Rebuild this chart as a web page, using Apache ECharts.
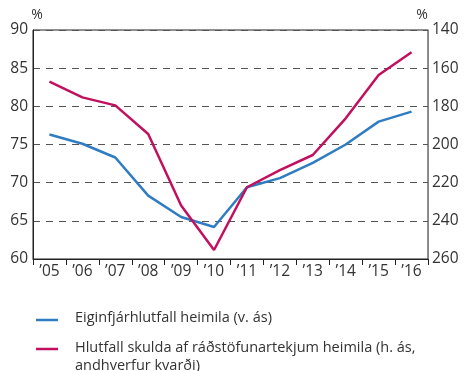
<!DOCTYPE html>
<html>
<head>
<meta charset="utf-8">
<script src="https://cdn.jsdelivr.net/npm/echarts@6/dist/echarts.min.js"></script>
<style>
  html, body { margin: 0; padding: 0; background: #fff; }
  #chart { width: 465px; height: 371px; }
</style>
</head>
<body>
<div id="chart"></div>
<script>
// Years on the category axis
const years = ['’05', '’06', '’07', '’08', '’09', '’10', '’11', '’12', '’13', '’14', '’15', '’16'];
// Equity ratio of households (left axis, %)
const equityRatio = [76.3, 75.1, 73.3, 68.3, 65.5, 64.2, 69.4, 70.6, 72.6, 75.0, 78.0, 79.3];
// Household debt as share of disposable income (right axis, inverted, %)
const debtRatio = [167, 175.3, 179.5, 194.5, 232, 255.3, 222.4, 213.4, 205.5, 186.3, 163.6, 151.7];
const seriesNames = [
  'Eiginfjárhlutfall heimila (v. ás)',
  'Hlutfall skulda af ráðstöfunartekjum heimila (h. ás,\nandhverfur kvarði)'
];
const colors = ['#2f7cc2', '#c2105f'];

const font = '"Open Sans", "Noto Sans", sans-serif';
const chart = echarts.init(document.getElementById('chart'), null, { renderer: 'canvas' });

chart.setOption({
  animation: false,
  textStyle: { fontFamily: font },
  grid: {
    left: 33, right: 37, top: 30, bottom: 112,
    show: true, borderColor: '#222', borderWidth: 1, backgroundColor: 'transparent'
  },
  xAxis: {
    type: 'category',
    data: years,
    boundaryGap: true,
    axisLine: { lineStyle: { color: '#222', width: 1 } },
    axisTick: { show: true, length: 6, lineStyle: { color: '#222' } },
    axisLabel: { color: '#333', fontSize: 15.5, margin: 5, fontFamily: font }
  },
  yAxis: [
    {
      type: 'value', min: 60, max: 90, interval: 5, position: 'left',
      name: '%', nameLocation: 'end', nameGap: 6,
      nameTextStyle: { color: '#333', fontSize: 14, fontFamily: font, align: 'center', padding: [0, 0, 0, 8] },
      axisLine: { show: true, lineStyle: { color: '#222', width: 1 } },
      axisTick: { show: false },
      axisLabel: { color: '#333', fontSize: 15.5, margin: 5, fontFamily: font },
      splitLine: { show: true, lineStyle: { color: '#555', type: [7, 6], width: 1 } }
    },
    {
      type: 'value', min: 140, max: 260, interval: 20, position: 'right', inverse: true,
      name: '%', nameLocation: 'start', nameGap: 6,
      nameTextStyle: { color: '#333', fontSize: 14, fontFamily: font, align: 'center', padding: [0, 12, 0, 0] },
      axisLine: { show: true, lineStyle: { color: '#888', width: 1 } },
      axisTick: { show: false },
      axisLabel: { color: '#333', fontSize: 15.5, margin: 4, fontFamily: font },
      splitLine: { show: false }
    }
  ],
  series: [
    {
      name: seriesNames[0], type: 'line', yAxisIndex: 0, data: equityRatio,
      symbol: 'none', lineStyle: { color: colors[0], width: 2.5 }, itemStyle: { color: colors[0] }
    },
    {
      name: seriesNames[1], type: 'line', yAxisIndex: 1, data: debtRatio,
      symbol: 'none', lineStyle: { color: colors[1], width: 2.5 }, itemStyle: { color: colors[1] }
    }
  ],
  graphic: [
    { type: 'line', shape: { x1: 36, y1: 320, x2: 58, y2: 320 }, style: { stroke: colors[0], lineWidth: 2.5 } },
    { type: 'text', left: 75, top: 310, style: { text: seriesNames[0], fill: '#333', font: '14.5px ' + font } },
    { type: 'line', shape: { x1: 36, y1: 349, x2: 58, y2: 349 }, style: { stroke: colors[1], lineWidth: 2.5 } },
    { type: 'text', left: 75, top: 339, style: { text: seriesNames[1], fill: '#333', font: '14.5px ' + font, lineHeight: 18 } }
  ]
});
</script>
</body>
</html>
